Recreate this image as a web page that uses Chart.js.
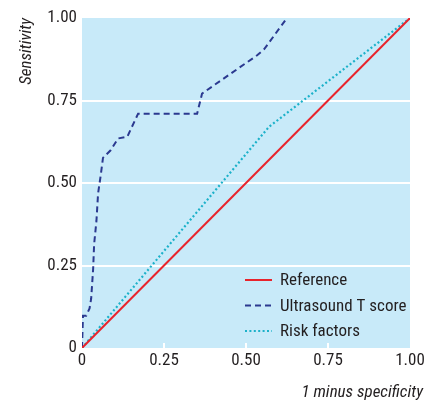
<!DOCTYPE html>
<html>
<head>
<meta charset="utf-8">
<script src="https://cdn.jsdelivr.net/npm/chart.js@4.4.1/dist/chart.umd.min.js"></script>
<style>
  html, body { margin: 0; padding: 0; background: #fff; }
</style>
</head>
<body>
<canvas id="roc" width="425" height="401"></canvas>
<script>
const seriesNames = ["Reference", "Ultrasound T score", "Risk factors"];

const referenceX = [0, 1];
const referenceY = [0, 1];

const ultrasoundX = [0, 0.003, 0.013, 0.023, 0.028, 0.034, 0.037, 0.044, 0.049, 0.057, 0.064, 0.088, 0.11, 0.138, 0.171, 0.351, 0.366, 0.534, 0.555, 0.625];
const ultrasoundY = [0, 0.098, 0.098, 0.12, 0.15, 0.24, 0.315, 0.385, 0.468, 0.523, 0.576, 0.6, 0.635, 0.64, 0.71, 0.71, 0.771, 0.887, 0.905, 1.0];

const riskX = [0, 0.57, 1];
const riskY = [0, 0.67, 1];

const xTitle = "1 minus specificity";
const yTitle = "Sensitivity";

const FONT = "'Liberation Sans Narrow', 'Arial Narrow', 'Roboto Condensed', Arial, sans-serif";
const INK = "#231f20";

function points(xs, ys) {
  return xs.map((x, i) => ({ x: x, y: ys[i] }));
}

function tickLabel(v) {
  return v === 0 ? "0" : v.toFixed(2);
}

// blue plot background, small white ticks at the bottom, legend inside the plot
const rocDecor = {
  id: "rocDecor",
  beforeDraw(chart) {
    const { ctx, chartArea: a } = chart;
    ctx.save();
    ctx.fillStyle = "#c8eaf9";
    ctx.fillRect(a.left, a.top, a.right - a.left, a.bottom - a.top);
    ctx.restore();
  },
  afterDraw(chart) {
    const { ctx, chartArea: a } = chart;
    const xs = chart.scales.x;
    ctx.save();
    ctx.strokeStyle = "#ffffff";
    ctx.lineWidth = 2;
    [0.25, 0.5, 0.75].forEach(v => {
      const px = Math.round(xs.getPixelForValue(v));
      ctx.beginPath();
      ctx.moveTo(px, a.bottom - 5);
      ctx.lineTo(px, a.bottom);
      ctx.stroke();
    });

    ctx.font = "17px " + FONT;
    ctx.textBaseline = "middle";
    ctx.fillStyle = INK;
    chart.data.datasets.forEach((ds, i) => {
      const y = a.bottom - 68 + i * 25.5;
      ctx.strokeStyle = ds.borderColor;
      ctx.lineWidth = ds.borderWidth;
      ctx.setLineDash(ds.borderDash || []);
      ctx.beginPath();
      ctx.moveTo(a.left + 163, y);
      ctx.lineTo(a.left + 190, y);
      ctx.stroke();
      ctx.fillText(ds.label, a.left + 198, y + 1);
    });
    ctx.restore();
  }
};

new Chart(document.getElementById("roc"), {
  type: "scatter",
  data: {
    datasets: [
      {
        label: seriesNames[0],
        data: points(referenceX, referenceY),
        showLine: true,
        borderColor: "#e8242c",
        borderWidth: 2,
        pointRadius: 0
      },
      {
        label: seriesNames[1],
        data: points(ultrasoundX, ultrasoundY),
        showLine: true,
        borderColor: "#2b3990",
        borderWidth: 2,
        borderDash: [6, 4],
        pointRadius: 0
      },
      {
        label: seriesNames[2],
        data: points(riskX, riskY),
        showLine: true,
        borderColor: "#1cb1c9",
        borderWidth: 2.2,
        borderDash: [2, 2.4],
        pointRadius: 0
      }
    ]
  },
  options: {
    responsive: false,
    animation: false,
    devicePixelRatio: 1,
    layout: { padding: { top: 18, left: 13, right: 2, bottom: 0 } },
    plugins: {
      legend: { display: false },
      tooltip: { enabled: false },
      title: {
        display: true,
        text: xTitle,
        position: "bottom",
        align: "end",
        color: INK,
        font: { family: FONT, size: 17, style: "italic", weight: "normal", lineHeight: 1 },
        padding: { top: 13, bottom: 0 }
      }
    },
    scales: {
      x: {
        type: "linear",
        min: 0,
        max: 1,
        border: { display: false },
        grid: { display: false, drawTicks: false },
        ticks: {
          stepSize: 0.25,
          padding: 3,
          color: INK,
          font: { family: FONT, size: 17 },
          maxRotation: 0,
          callback: tickLabel
        },
        afterFit(s) { s.height = 23; s.paddingRight = 15; }
      },
      y: {
        type: "linear",
        min: 0,
        max: 1,
        border: { display: false },
        grid: {
          color: c => (c.tick.value === 0 || c.tick.value === 1) ? "rgba(0,0,0,0)" : "#ffffff",
          lineWidth: 2,
          drawTicks: false
        },
        ticks: {
          stepSize: 0.25,
          padding: 5,
          color: INK,
          font: { family: FONT, size: 17 },
          callback: tickLabel
        },
        title: {
          display: true,
          text: yTitle,
          align: "end",
          color: INK,
          font: { family: FONT, size: 17, style: "italic" },
          padding: { top: 4, bottom: 4 }
        },
        afterFit(s) { s.width = 69; }
      }
    }
  },
  plugins: [rocDecor]
});
</script>
</body>
</html>
